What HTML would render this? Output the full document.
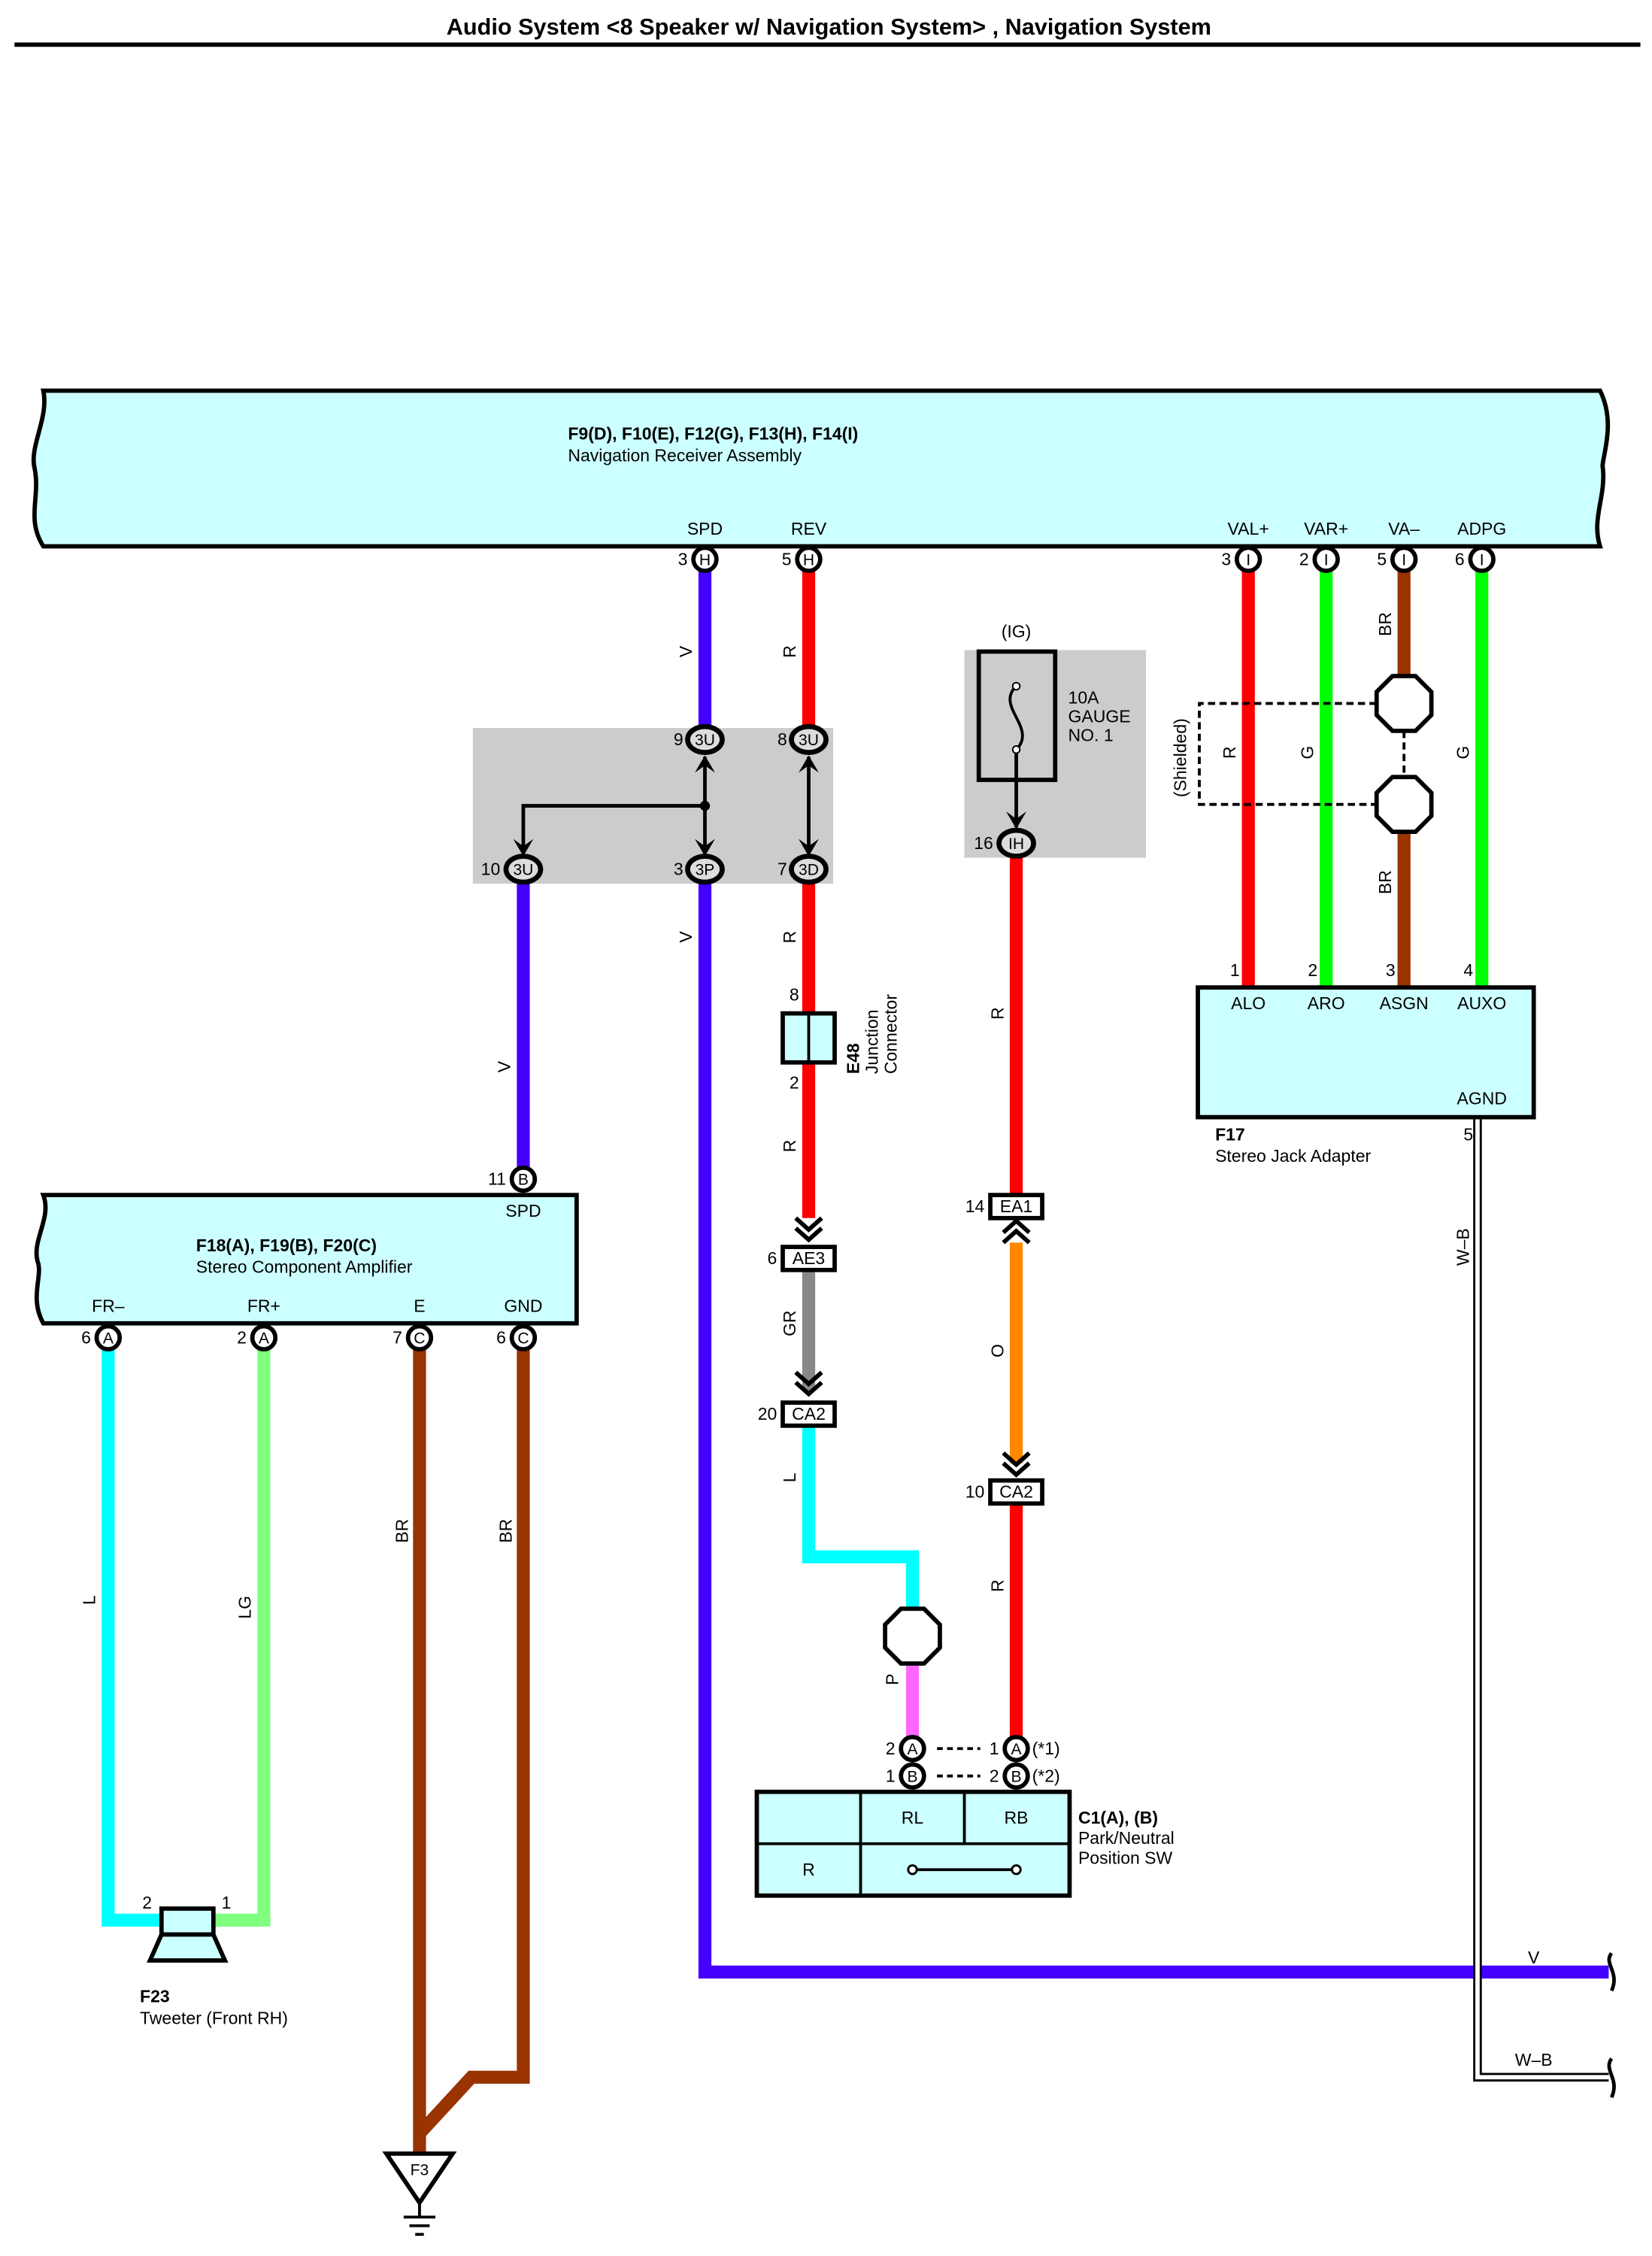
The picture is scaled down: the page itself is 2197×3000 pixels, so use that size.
<!DOCTYPE html>
<html><head><meta charset="utf-8"><style>html,body{margin:0;padding:0;background:#fff}svg{display:block}text{font-family:"Liberation Sans",sans-serif}</style></head>
<body>
<svg width="2197" height="3000" viewBox="0 0 1146 1565" xmlns="http://www.w3.org/2000/svg">
<rect width="1146" height="1565" fill="#fff"/>
<text x="575" y="24" font-size="16" font-weight="bold" text-anchor="middle">Audio System &lt;8 Speaker w/ Navigation System&gt; , Navigation System</text>
<line x1="10" y1="31" x2="1138" y2="31" stroke="#000" stroke-width="3"/>

<!-- Nav receiver -->
<path d="M30,271 L1110,271 C1122,295 1110,320 1112,325 C1114,345 1104,360 1110,379 L30,379 C18,360 28,345 24,325 C20,310 34,290 30,271Z" fill="#ccffff" stroke="#000" stroke-width="3"/>
<text x="394" y="305" font-size="12" font-weight="bold">F9(D), F10(E), F12(G), F13(H), F14(I)</text>
<text x="394" y="320" font-size="12">Navigation Receiver Assembly</text>
<g font-size="12" text-anchor="middle">
<text x="489" y="371">SPD</text><text x="561" y="371">REV</text>
<text x="866" y="371">VAL+</text><text x="920" y="371">VAR+</text><text x="974" y="371">VA–</text><text x="1028" y="371">ADPG</text>
</g>

<!-- Gray boxes -->
<rect x="328" y="505" width="250" height="108" fill="#cccccc"/>
<rect x="669" y="451" width="126" height="144" fill="#cccccc"/>

<!-- Wires -->
<g stroke-width="9" fill="none">
<line x1="489" y1="396" x2="489" y2="505" stroke="#4400ff"/>
<line x1="561" y1="396" x2="561" y2="505" stroke="#ff0000"/>
<polyline points="489,612 489,1368 1116,1368" stroke="#4400ff"/>
<line x1="363" y1="612" x2="363" y2="810" stroke="#4400ff"/>
<line x1="561" y1="612" x2="561" y2="845" stroke="#ff0000"/>
<line x1="561" y1="882" x2="561" y2="965" stroke="#888888"/>
<polyline points="561,990 561,1080 633,1080 633,1117" stroke="#00ffff"/>
<line x1="633" y1="1153" x2="633" y2="1205" stroke="#ff66ff"/>
<line x1="705" y1="594" x2="705" y2="828" stroke="#ff0000"/>
<line x1="705" y1="862" x2="705" y2="1015" stroke="#ff8800"/>
<line x1="705" y1="1044" x2="705" y2="1205" stroke="#ff0000"/>
<line x1="866" y1="396" x2="866" y2="684" stroke="#ff0000"/>
<line x1="920" y1="396" x2="920" y2="684" stroke="#00ff00"/>
<line x1="974" y1="396" x2="974" y2="470" stroke="#993300"/>
<line x1="974" y1="576" x2="974" y2="684" stroke="#993300"/>
<line x1="1028" y1="396" x2="1028" y2="684" stroke="#00ff00"/>
<polyline points="75,936 75,1332 112,1332" stroke="#00ffff"/>
<polyline points="183,936 183,1332 148,1332" stroke="#80ff80"/>
<line x1="291" y1="936" x2="291" y2="1494" stroke="#993300"/>
<polyline points="363,936 363,1441 327,1441 291,1480" stroke="#993300"/>
</g>
<!-- W-B double line -->
<polyline points="1025,776 1025,1441 1116,1441" fill="none" stroke="#000" stroke-width="6"/>
<polyline points="1025,776 1025,1441 1116,1441" fill="none" stroke="#fff" stroke-width="3"/>
<path d="M1118,1355 C1112,1362 1124,1368 1118,1381" fill="none" stroke="#000" stroke-width="2.5"/>
<path d="M1118,1428 C1112,1436 1124,1442 1118,1455" fill="none" stroke="#000" stroke-width="2.5"/>

<!-- Pin circles -->
<g stroke="#000" stroke-width="3" fill="#fff">
<circle cx="489" cy="388" r="8"/><circle cx="561" cy="388" r="8"/>
<circle cx="866" cy="388" r="8"/><circle cx="920" cy="388" r="8"/><circle cx="974" cy="388" r="8"/><circle cx="1028" cy="388" r="8"/>
<circle cx="363" cy="818" r="8"/>
<circle cx="75" cy="928" r="8"/><circle cx="183" cy="928" r="8"/><circle cx="291" cy="928" r="8"/><circle cx="363" cy="928" r="8"/>
<circle cx="633" cy="1213" r="8"/><circle cx="633" cy="1232" r="8"/><circle cx="705" cy="1213" r="8"/><circle cx="705" cy="1232" r="8"/>
</g>
<g font-size="11" text-anchor="middle">
<text x="489" y="392">H</text><text x="561" y="392">H</text>
<text x="866" y="392">I</text><text x="920" y="392">I</text><text x="974" y="392">I</text><text x="1028" y="392">I</text>
<text x="363" y="822">B</text>
<text x="75" y="932">A</text><text x="183" y="932">A</text><text x="291" y="932">C</text><text x="363" y="932">C</text>
<text x="633" y="1217">A</text><text x="633" y="1236">B</text><text x="705" y="1217">A</text><text x="705" y="1236">B</text>
</g>
<g font-size="12" text-anchor="end">
<text x="477" y="392">3</text><text x="549" y="392">5</text>
<text x="854" y="392">3</text><text x="908" y="392">2</text><text x="962" y="392">5</text><text x="1016" y="392">6</text>
<text x="351" y="822">11</text>
<text x="63" y="932">6</text><text x="171" y="932">2</text><text x="279" y="932">7</text><text x="351" y="932">6</text>
<text x="621" y="1217">2</text><text x="621" y="1236">1</text><text x="693" y="1217">1</text><text x="693" y="1236">2</text>
</g>
<g font-size="12"><text x="716" y="1217">(*1)</text><text x="716" y="1236">(*2)</text></g>
<g stroke="#000" stroke-width="2" stroke-dasharray="4,3"><line x1="650" y1="1213" x2="680" y2="1213"/><line x1="650" y1="1232" x2="680" y2="1232"/></g>

<!-- junction block internals -->
<g stroke="#000" stroke-width="2.5" fill="none">
<line x1="489" y1="525" x2="489" y2="592"/>
<line x1="561" y1="525" x2="561" y2="592"/>
<polyline points="489,559 363,559 363,592"/>
<line x1="705" y1="521" x2="705" y2="574"/>
</g>
<circle cx="489" cy="559" r="3.5" fill="#000"/>
<g fill="#000">
<path d="M482,536 L489,524 L496,536 L489,531Z"/><path d="M554,536 L561,524 L568,536 L561,531Z"/>
<path d="M356,582 L363,594 L370,582 L363,587Z"/><path d="M482,582 L489,594 L496,582 L489,587Z"/><path d="M554,582 L561,594 L568,582 L561,587Z"/>
<path d="M698,563 L705,575 L712,563 L705,568Z"/>
</g>
<g stroke="#000" stroke-width="3.5" fill="#ddd">
<ellipse cx="489" cy="513" rx="12" ry="9"/><ellipse cx="561" cy="513" rx="12" ry="9"/>
<ellipse cx="363" cy="603" rx="12" ry="9"/><ellipse cx="489" cy="603" rx="12" ry="9"/><ellipse cx="561" cy="603" rx="12" ry="9"/>
<ellipse cx="705" cy="585" rx="12" ry="9"/>
</g>
<g font-size="11" text-anchor="middle">
<text x="489" y="517">3U</text><text x="561" y="517">3U</text>
<text x="363" y="607">3U</text><text x="489" y="607">3P</text><text x="561" y="607">3D</text><text x="705" y="589">IH</text>
</g>
<g font-size="12" text-anchor="end">
<text x="474" y="517">9</text><text x="546" y="517">8</text>
<text x="347" y="607">10</text><text x="474" y="607">3</text><text x="546" y="607">7</text><text x="689" y="589">16</text>
</g>

<!-- fuse -->
<text x="705" y="442" font-size="12" text-anchor="middle">(IG)</text>
<rect x="679" y="452" width="53" height="89" fill="none" stroke="#000" stroke-width="3"/>
<path d="M705,476 C690,490 720,505 705,520" fill="none" stroke="#000" stroke-width="2"/>
<circle cx="705" cy="476" r="2.5" fill="#fff" stroke="#000"/><circle cx="705" cy="520" r="2.5" fill="#fff" stroke="#000"/>
<g font-size="12"><text x="741" y="488">10A</text><text x="741" y="501">GAUGE</text><text x="741" y="514">NO. 1</text></g>

<!-- E48 -->
<rect x="543" y="703" width="36" height="34" fill="#ccffff" stroke="#000" stroke-width="3"/>
<line x1="561" y1="703" x2="561" y2="737" stroke="#000" stroke-width="2"/>
<g font-size="12" text-anchor="middle"><text x="551" y="694">8</text><text x="551" y="755">2</text></g>
<text transform="translate(596,745) rotate(-90)" font-size="12" font-weight="bold">E48</text>
<text transform="translate(609,745) rotate(-90)" font-size="12">Junction</text>
<text transform="translate(622,745) rotate(-90)" font-size="12">Connector</text>

<!-- chevrons -->
<g stroke="#000" stroke-width="3" fill="none">
<polyline points="552,845 561,853 570,845"/><polyline points="552,852 561,860 570,852"/>
<polyline points="552,952 561,960 570,952"/><polyline points="552,959 561,967 570,959"/>
<polyline points="696,855 705,847 714,855"/><polyline points="696,862 705,854 714,862"/>
<polyline points="696,1008 705,1016 714,1008"/><polyline points="696,1015 705,1023 714,1015"/>
</g>
<g stroke="#000" stroke-width="3" fill="#fff">
<rect x="543" y="865" width="36" height="16"/><rect x="543" y="973" width="36" height="16"/>
<rect x="687" y="829" width="36" height="16"/><rect x="687" y="1027" width="36" height="16"/>
</g>
<g font-size="12" text-anchor="middle">
<text x="561" y="877">AE3</text><text x="561" y="985">CA2</text><text x="705" y="841">EA1</text><text x="705" y="1039">CA2</text>
</g>
<g font-size="12" text-anchor="end">
<text x="539" y="877">6</text><text x="539" y="985">20</text><text x="683" y="841">14</text><text x="683" y="1039">10</text>
</g>

<!-- octagons -->
<g stroke="#000" stroke-width="3" fill="#fff">
<polygon points="625,1116 641,1116 652,1127 652,1143 641,1154 625,1154 614,1143 614,1127"/>
<polygon points="966,469 982,469 993,480 993,496 982,507 966,507 955,496 955,480"/>
<polygon points="966,539 982,539 993,550 993,566 982,577 966,577 955,566 955,550"/>
</g>
<g stroke="#000" stroke-width="2" stroke-dasharray="5,3" fill="none">
<polyline points="955,488 832,488 832,558 955,558"/>
<line x1="974" y1="507" x2="974" y2="539"/>
</g>
<text transform="translate(823,553) rotate(-90)" font-size="12">(Shielded)</text>

<!-- F17 -->
<rect x="831" y="685" width="233" height="90" fill="#ccffff" stroke="#000" stroke-width="3"/>
<g font-size="12" text-anchor="middle">
<text x="866" y="700">ALO</text><text x="920" y="700">ARO</text><text x="974" y="700">ASGN</text><text x="1028" y="700">AUXO</text>
<text x="1028" y="766">AGND</text>
</g>
<g font-size="12" text-anchor="end">
<text x="860" y="677">1</text><text x="914" y="677">2</text><text x="968" y="677">3</text><text x="1022" y="677">4</text><text x="1022" y="791">5</text>
</g>
<text x="843" y="791" font-size="12" font-weight="bold">F17</text>
<text x="843" y="806" font-size="12">Stereo Jack Adapter</text>

<!-- Stereo amp -->
<path d="M30,829 L400,829 L400,918 L30,918 C20,900 30,885 26,875 C22,860 36,845 30,829Z" fill="#ccffff" stroke="#000" stroke-width="3"/>
<text x="136" y="868" font-size="12" font-weight="bold">F18(A), F19(B), F20(C)</text>
<text x="136" y="883" font-size="12">Stereo Component Amplifier</text>
<g font-size="12" text-anchor="middle">
<text x="363" y="844">SPD</text>
<text x="75" y="910">FR–</text><text x="183" y="910">FR+</text><text x="291" y="910">E</text><text x="363" y="910">GND</text>
</g>

<!-- Tweeter -->
<rect x="112" y="1324" width="36" height="18" fill="#ccffff" stroke="#000" stroke-width="3"/>
<polygon points="112,1342 148,1342 156,1360 104,1360" fill="#ccffff" stroke="#000" stroke-width="3"/>
<g font-size="12" text-anchor="middle"><text x="102" y="1324">2</text><text x="157" y="1324">1</text></g>
<text x="97" y="1389" font-size="12" font-weight="bold">F23</text>
<text x="97" y="1404" font-size="12">Tweeter (Front RH)</text>

<!-- ground -->
<polygon points="268,1494 314,1494 291,1528" fill="#fff" stroke="#000" stroke-width="3"/>
<text x="291" y="1509" font-size="11" text-anchor="middle">F3</text>
<g stroke="#000" stroke-width="2"><line x1="291" y1="1528" x2="291" y2="1538"/><line x1="280" y1="1538" x2="302" y2="1538"/><line x1="284" y1="1544" x2="298" y2="1544"/><line x1="288" y1="1550" x2="294" y2="1550"/></g>

<!-- park/neutral -->
<rect x="525" y="1243" width="217" height="72" fill="#ccffff" stroke="#000" stroke-width="3"/>
<g stroke="#000" stroke-width="2"><line x1="597" y1="1243" x2="597" y2="1315"/><line x1="669" y1="1243" x2="669" y2="1279"/><line x1="525" y1="1279" x2="742" y2="1279"/><line x1="636" y1="1297" x2="702" y2="1297"/></g>
<circle cx="633" cy="1297" r="3" fill="#fff" stroke="#000" stroke-width="1.5"/><circle cx="705" cy="1297" r="3" fill="#fff" stroke="#000" stroke-width="1.5"/>
<g font-size="12" text-anchor="middle"><text x="633" y="1265">RL</text><text x="705" y="1265">RB</text><text x="561" y="1301">R</text></g>
<text x="748" y="1265" font-size="12" font-weight="bold">C1(A), (B)</text>
<text x="748" y="1279" font-size="12">Park/Neutral</text>
<text x="748" y="1293" font-size="12">Position SW</text>

<!-- wire labels -->
<g font-size="12" text-anchor="middle">
<text transform="translate(480,452) rotate(-90)">V</text>
<text transform="translate(552,452) rotate(-90)">R</text>
<text transform="translate(480,650) rotate(-90)">V</text>
<text transform="translate(552,650) rotate(-90)">R</text>
<text transform="translate(552,795) rotate(-90)">R</text>
<text transform="translate(552,918) rotate(-90)">GR</text>
<text transform="translate(552,1025) rotate(-90)">L</text>
<text transform="translate(623,1165) rotate(-90)">P</text>
<text transform="translate(696,703) rotate(-90)">R</text>
<text transform="translate(696,937) rotate(-90)">O</text>
<text transform="translate(696,1100) rotate(-90)">R</text>
<text transform="translate(354,740) rotate(-90)">V</text>
<text transform="translate(66,1110) rotate(-90)">L</text>
<text transform="translate(174,1115) rotate(-90)">LG</text>
<text transform="translate(283,1062) rotate(-90)">BR</text>
<text transform="translate(355,1062) rotate(-90)">BR</text>
<text transform="translate(857,522) rotate(-90)">R</text>
<text transform="translate(911,522) rotate(-90)">G</text>
<text transform="translate(1019,522) rotate(-90)">G</text>
<text transform="translate(965,433) rotate(-90)">BR</text>
<text transform="translate(965,612) rotate(-90)">BR</text>
<text transform="translate(1019,865) rotate(-90)">W–B</text>
<text x="1064" y="1362">V</text>
<text x="1064" y="1433">W–B</text>
</g>
</svg>
</body></html>
